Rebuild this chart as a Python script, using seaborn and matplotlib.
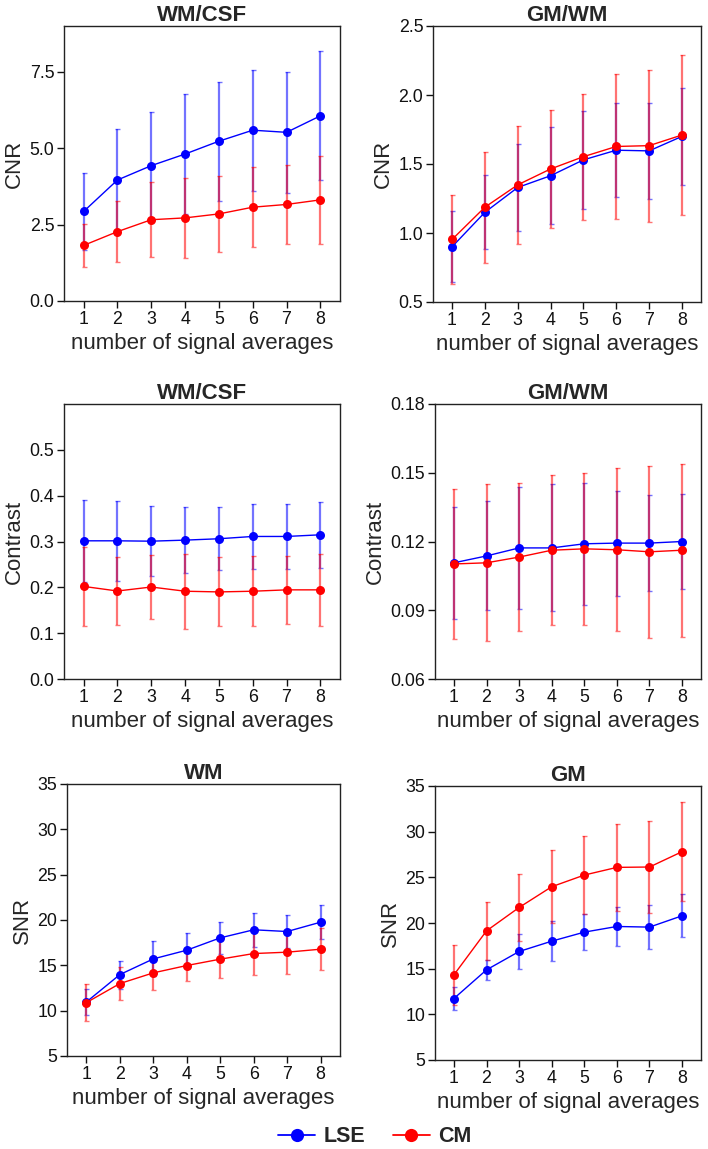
import numpy as np
import pandas as pd
import matplotlib
matplotlib.use("Agg")
import matplotlib.pyplot as plt
import seaborn as sns
from matplotlib.lines import Line2D

# ---------------- data ----------------
nsa = [1, 2, 3, 4, 5, 6, 7, 8]
methods = ["LSE", "CM"]
colors = {"LSE": "#0000ff", "CM": "#ff0000"}
xlabel = "number of signal averages"

# CNR WM/CSF
cnr_wmcsf_lse_mean = [2.93, 3.96, 4.43, 4.81, 5.23, 5.59, 5.52, 6.06]
cnr_wmcsf_lse_sd = [1.25, 1.67, 1.75, 1.96, 1.95, 1.98, 1.99, 2.11]
cnr_wmcsf_cm_mean = [1.82, 2.27, 2.66, 2.72, 2.85, 3.07, 3.16, 3.31]
cnr_wmcsf_cm_sd = [0.70, 0.99, 1.23, 1.30, 1.25, 1.31, 1.29, 1.44]

# CNR GM/WM
cnr_gmwm_lse_mean = [0.90, 1.15, 1.33, 1.415, 1.53, 1.60, 1.595, 1.70]
cnr_gmwm_lse_sd = [0.256, 0.267, 0.318, 0.35, 0.357, 0.34, 0.345, 0.353]
cnr_gmwm_cm_mean = [0.953, 1.187, 1.349, 1.464, 1.553, 1.627, 1.633, 1.71]
cnr_gmwm_cm_sd = [0.325, 0.403, 0.427, 0.427, 0.457, 0.523, 0.551, 0.583]

# Contrast WM/CSF
con_wmcsf_lse_mean = [0.3015, 0.3015, 0.3007, 0.303, 0.306, 0.311, 0.311, 0.3146]
con_wmcsf_lse_sd = [0.0895, 0.0875, 0.0763, 0.072, 0.069, 0.070, 0.071, 0.072]
con_wmcsf_cm_mean = [0.202, 0.192, 0.2007, 0.1915, 0.190, 0.1915, 0.1945, 0.1945]
con_wmcsf_cm_sd = [0.0858, 0.0748, 0.0697, 0.0823, 0.0752, 0.076, 0.0745, 0.0789]

# Contrast GM/WM
con_gmwm_lse_mean = [0.1107, 0.1137, 0.1172, 0.1172, 0.1190, 0.1193, 0.1193, 0.1200]
con_gmwm_lse_sd = [0.0244, 0.0238, 0.0267, 0.0277, 0.0266, 0.0229, 0.0209, 0.0207]
con_gmwm_cm_mean = [0.1102, 0.1107, 0.1132, 0.1162, 0.1168, 0.1164, 0.1155, 0.1162]
con_gmwm_cm_sd = [0.0329, 0.0342, 0.0323, 0.0328, 0.0333, 0.0355, 0.0374, 0.0378]

# SNR WM
snr_wm_lse_mean = [10.96, 13.98, 15.71, 16.67, 18.03, 18.92, 18.73, 19.76]
snr_wm_lse_sd = [1.44, 1.55, 1.92, 1.92, 1.73, 1.88, 1.81, 1.88]
snr_wm_cm_mean = [10.89, 12.99, 14.17, 14.98, 15.68, 16.30, 16.45, 16.78]
snr_wm_cm_sd = [2.04, 1.84, 1.90, 1.71, 2.06, 2.40, 2.40, 2.30]

# SNR GM
snr_gm_lse_mean = [11.73, 14.87, 16.88, 18.01, 19.00, 19.62, 19.55, 20.79]
snr_gm_lse_sd = [1.30, 1.13, 1.88, 2.21, 2.01, 2.16, 2.37, 2.34]
snr_gm_cm_mean = [14.32, 19.14, 21.70, 23.97, 25.25, 26.09, 26.13, 27.81]
snr_gm_cm_sd = [3.32, 3.21, 3.65, 3.99, 4.30, 4.77, 5.05, 5.40]

panels = [
    dict(title="WM/CSF", ylabel="CNR",
         lse=(cnr_wmcsf_lse_mean, cnr_wmcsf_lse_sd), cm=(cnr_wmcsf_cm_mean, cnr_wmcsf_cm_sd),
         ylim=(0, 9), yticks=[0, 2.5, 5.0, 7.5], fmt="{:.1f}",
         box=(64, 340, 26, 301)),
    dict(title="GM/WM", ylabel="CNR",
         lse=(cnr_gmwm_lse_mean, cnr_gmwm_lse_sd), cm=(cnr_gmwm_cm_mean, cnr_gmwm_cm_sd),
         ylim=(0.5, 2.5), yticks=[0.5, 1.0, 1.5, 2.0, 2.5], fmt="{:.1f}",
         box=(433, 701, 26, 302)),
    dict(title="WM/CSF", ylabel="Contrast",
         lse=(con_wmcsf_lse_mean, con_wmcsf_lse_sd), cm=(con_wmcsf_cm_mean, con_wmcsf_cm_sd),
         ylim=(0, 0.6), yticks=[0, 0.1, 0.2, 0.3, 0.4, 0.5], fmt="{:.1f}",
         box=(64, 340, 404, 679)),
    dict(title="GM/WM", ylabel="Contrast",
         lse=(con_gmwm_lse_mean, con_gmwm_lse_sd), cm=(con_gmwm_cm_mean, con_gmwm_cm_sd),
         ylim=(0.06, 0.18), yticks=[0.06, 0.09, 0.12, 0.15, 0.18], fmt="{:.2f}",
         box=(435, 701, 404, 679)),
    dict(title="WM", ylabel="SNR",
         lse=(snr_wm_lse_mean, snr_wm_lse_sd), cm=(snr_wm_cm_mean, snr_wm_cm_sd),
         ylim=(5, 35), yticks=[5, 10, 15, 20, 25, 30, 35], fmt="{:.0f}",
         box=(67, 340, 784, 1056)),
    dict(title="GM", ylabel="SNR",
         lse=(snr_gm_lse_mean, snr_gm_lse_sd), cm=(snr_gm_cm_mean, snr_gm_cm_sd),
         ylim=(5, 35), yticks=[5, 10, 15, 20, 25, 30, 35], fmt="{:.0f}",
         box=(435, 701, 786, 1060)),
]

# ---------------- style ----------------
sns.set_theme(style="ticks")
plt.rcParams["font.family"] = ["Liberation Sans", "DejaVu Sans"]
plt.rcParams["axes.linewidth"] = 1.0
plt.rcParams["axes.edgecolor"] = "#222222"

W, H = 708, 1149
fig = plt.figure(figsize=(W / 100, H / 100), dpi=100)

for p in panels:
    l, r, t, b = p["box"]
    ax = fig.add_axes([l / W, 1 - b / H, (r - l) / W, (b - t) / H])
    rows = []
    for m, (mean, sd) in (("LSE", p["lse"]), ("CM", p["cm"])):
        for x, mu, s in zip(nsa, mean, sd):
            rows.append(dict(nsa=x, method=m, mean=mu, sd=s))
    df = pd.DataFrame(rows)
    for m in methods:
        d = df[df.method == m]
        ax.errorbar(d["nsa"], d["mean"], yerr=d["sd"], fmt="none",
                    ecolor=colors[m], elinewidth=1.6, capsize=1.8, capthick=1.0,
                    alpha=0.55, zorder=1)
    sns.lineplot(data=df, x="nsa", y="mean", hue="method", hue_order=methods,
                 palette=colors, marker="o", markersize=6.5, markeredgewidth=0,
                 linewidth=1.0, errorbar=None, legend=False, ax=ax, zorder=3)
    ax.set_xlim(0.42, 8.58)
    ax.set_ylim(*p["ylim"])
    ax.set_xticks(nsa)
    ax.set_xticklabels([str(v) for v in nsa])
    ax.set_yticks(p["yticks"])
    ax.set_yticklabels([p["fmt"].format(v) for v in p["yticks"]])
    ax.tick_params(axis="both", length=5, width=1.0, pad=2, labelsize=12.8,
                   colors="#111111", direction="out")
    for s in ax.spines.values():
        s.set_visible(True)
        s.set_color("#222222")
        s.set_linewidth(1.0)
    ax.set_title(p["title"], fontsize=16, fontweight="bold", pad=3)
    ax.set_xlabel(xlabel, fontsize=16, labelpad=4)
    ax.set_ylabel(p["ylabel"], fontsize=16, labelpad=3)

handles = [Line2D([0], [0], color=colors[m], marker="o", markersize=9.5,
                  markeredgewidth=0, linewidth=1.3) for m in methods]
leg = fig.legend(handles, methods, loc="center", ncol=2,
                 bbox_to_anchor=(375 / W, 1 - 1137 / H), frameon=False,
                 prop=dict(size=15.5, weight="bold"), handlelength=1.7,
                 handletextpad=0.4, columnspacing=1.3)

fig.savefig("out.png", dpi=100, facecolor="white")
